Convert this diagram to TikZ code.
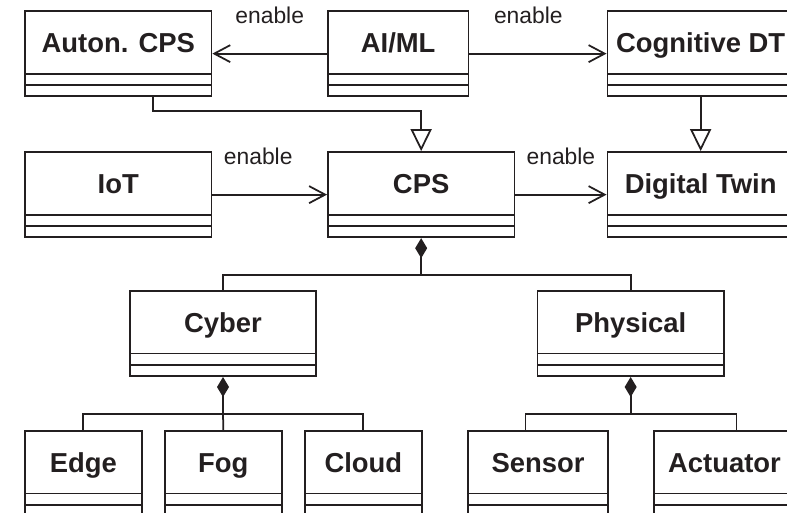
\documentclass[tikz,border=0pt]{standalone}
\usepackage{fontspec}
\setmainfont{Liberation Sans}
\usetikzlibrary{arrows.meta,shapes.multipart}
\definecolor{ink}{RGB}{35,31,32}
\begin{document}
\begin{tikzpicture}[x=1cm,y=1cm,
  inkline/.style={draw=ink,line width=1pt},
  cls/.style={inkline,rectangle split,rectangle split parts=3,
    minimum width=#1,inner xsep=0pt,inner ysep=0pt,
    rectangle split empty part height=0.19cm,rectangle split empty part depth=0pt,
    text=ink,font=\fontsize{15.6}{18}\selectfont\bfseries,
    execute at begin node={\rule[-0.41cm]{0pt}{1.22cm}}},
  cls/.default=3.73cm,
  enable/.style={inkline,-{Straight Barb[length=0.32cm,width=0.34cm]}},
  gen/.style={inkline,-{Triangle[open,length=0.44cm,width=0.42cm]}},
  comp/.style={inkline,{Diamond[length=0.4cm,width=0.24cm]}-},
  lbl/.style={text=ink,font=\fontsize{13}{15}\selectfont,anchor=base,yshift=0.61cm}]
\path[use as bounding box,clip] (0,0) rectangle (15.74,10.26);
\node[cls] (auton) at (2.365,9.187) {Auton. CPS};
\node[cls=2.81cm] (aiml) at (7.963,9.187) {AI/ML};
\node[cls] (cogdt) at (14.013,9.187) {Cognitive DT};
\node[cls] (iot) at (2.365,6.367) {IoT};
\node[cls] (cps) at (8.423,6.367) {CPS};
\node[cls] (dt) at (14.013,6.367) {Digital Twin};
\node[cls] (cyber) at (4.46,3.59) {Cyber};
\node[cls] (phys) at (12.613,3.59) {Physical};
\node[cls=2.333cm] (edge) at (1.667,0.794) {Edge};
\node[cls=2.333cm] (fog) at (4.467,0.794) {Fog};
\node[cls=2.333cm] (cloud) at (7.267,0.794) {Cloud};
\node[cls=2.81cm] (sensor) at (10.76,0.794) {Sensor};
\node[cls=2.81cm] (actuator) at (14.49,0.794) {Actuator};
\draw[enable] (aiml.west) -- node[lbl]{enable} (auton.east);
\draw[enable] (aiml.east) -- node[lbl,pos=0.43]{enable} (cogdt.west);
\draw[enable] (iot.east) -- node[lbl,pos=0.4]{enable} (cps.west);
\draw[enable] (cps.east) -- node[lbl]{enable} (dt.west);
\draw[gen] ([xshift=0.7cm]auton.south) -- ++(0,-0.28) -| (cps.north);
\draw[gen] (cogdt.south) -- (dt.north);
\draw[comp] (cps.south) -- ++(0,-0.74) coordinate (cpsbus) -| (cyber.north);
\draw[inkline] (cpsbus) -| (phys.north);
\draw[comp] (cyber.south) -- ++(0,-0.74) coordinate (cyberbus) -| (edge.north);
\draw[inkline] (cyberbus) -- (fog.north);
\draw[inkline] (cyberbus) -| (cloud.north);
\draw[comp] (phys.south) -- ++(0,-0.74) coordinate (physbus) -| ([xshift=-0.25cm]sensor.north);
\draw[inkline] (physbus) -| ([xshift=0.24cm]actuator.north);
\end{tikzpicture}
\end{document}
